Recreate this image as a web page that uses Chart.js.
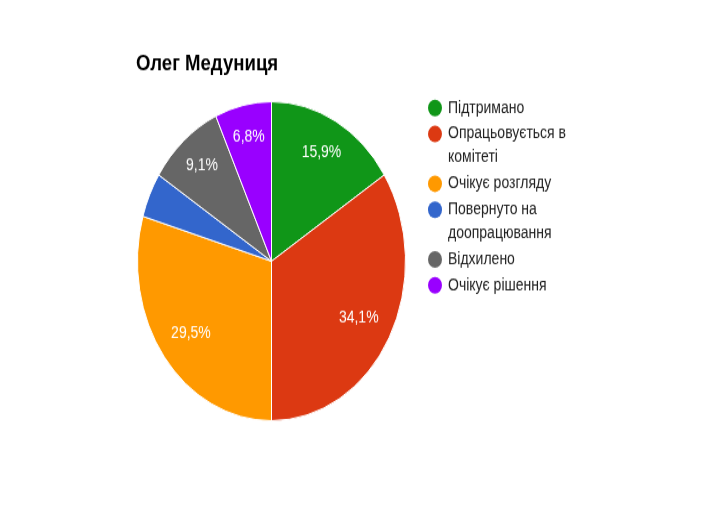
<!DOCTYPE html>
<html><head><meta charset="utf-8">
<script src="https://cdn.jsdelivr.net/npm/chart.js@4.4.1/dist/chart.umd.min.js"></script>
<style>
html,body{margin:0;padding:0;background:#fff;overflow:hidden;}
#wrap{position:absolute;left:0;top:0;width:708px;height:439px;transform:scaleY(1.19);transform-origin:0 0;}
</style></head><body>
<div id="wrap"><canvas id="c"></canvas></div>
<script>
const chartTitle = 'Олег Медуниця';
const categories = ['Підтримано', 'Опрацьовується в комітеті', 'Очікує розгляду', 'Повернуто на доопрацювання', 'Відхилено', 'Очікує рішення'];
const counts = [7, 15, 13, 2, 4, 3];
const colors = ['#109618', '#dc3912', '#ff9900', '#3366cc', '#666666', '#9900ff'];

const FONT = '"Liberation Sans", Arial, sans-serif';
const total = counts.reduce((a, b) => a + b, 0);
const pctText = v => (v / total * 100).toFixed(1).replace('.', ',') + '%';

function wrapText(ctx, text, maxW) {
  const words = text.split(' ');
  const lines = [];
  let cur = '';
  for (const w of words) {
    const t = cur ? cur + ' ' + w : w;
    if (ctx.measureText(t).width > maxW && cur) { lines.push(cur); cur = w; }
    else cur = t;
  }
  if (cur) lines.push(cur);
  return lines;
}

const extras = {
  id: 'extras',
  afterDraw(chart) {
    const ctx = chart.ctx;
    ctx.save();
    // title
    ctx.fillStyle = '#000';
    ctx.font = 'bold 18.6px ' + FONT;
    ctx.textAlign = 'left';
    ctx.textBaseline = 'alphabetic';
    ctx.fillText(chartTitle, 136, 58.8);
    // slice labels
    const meta = chart.getDatasetMeta(0);
    ctx.font = '14px ' + FONT;
    ctx.textAlign = 'center';
    ctx.textBaseline = 'middle';
    ctx.fillStyle = '#fff';
    meta.data.forEach((arc, i) => {
      const p = counts[i] / total * 100;
      if (p < 5) return;
      const {x, y, startAngle, endAngle, outerRadius} = arc.getProps(['x', 'y', 'startAngle', 'endAngle', 'outerRadius'], true);
      const mid = (startAngle + endAngle) / 2;
      const f = 0.74 + 0.07 * Math.max(0, 1 - p / 35);
      ctx.fillText(pctText(counts[i]), x + Math.cos(mid) * outerRadius * f, y + Math.sin(mid) * outerRadius * f);
    });
    // legend
    ctx.textAlign = 'left';
    ctx.textBaseline = 'middle';
    let ly = 90.8;
    categories.forEach((name, i) => {
      ctx.fillStyle = colors[i];
      ctx.beginPath();
      ctx.arc(435, ly, 7, 0, Math.PI * 2);
      ctx.fill();
      ctx.fillStyle = '#222';
      const lines = wrapText(ctx, name, 140);
      lines.forEach((ln, k) => {
        ctx.fillText(ln, 448, ly + k * 20);
      });
      ly += (lines.length - 1) * 20 + 21.8;
    });
    ctx.restore();
  }
};

new Chart(document.getElementById('c'), {
  type: 'pie',
  data: {
    labels: categories,
    datasets: [{
      data: counts,
      backgroundColor: colors,
      borderColor: '#ffffff',
      borderWidth: 1
    }]
  },
  options: {
    responsive: true,
    maintainAspectRatio: false,
    animation: false,
    events: [],
    layout: {padding: {left: 137, right: 302, top: 85, bottom: 85}},
    plugins: {legend: {display: false}, tooltip: {enabled: false}, title: {display: false}}
  },
  plugins: [extras]
});
</script>
</body></html>
